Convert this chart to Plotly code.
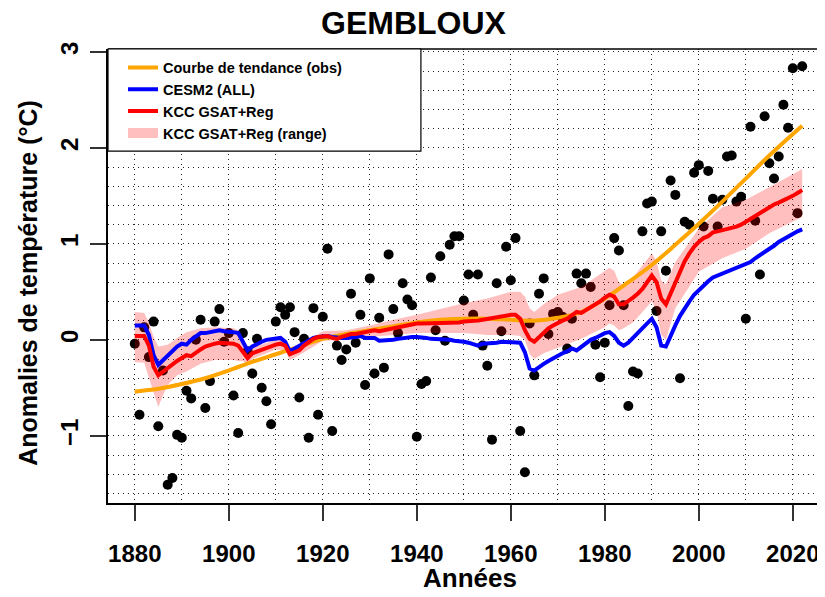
import plotly.graph_objects as go

years = list(range(1880, 2023))
obs = [-0.04, -0.78, 0.13, -0.18, 0.19, -0.90, -0.32, -1.51, -1.44, -0.99,
       -1.02, -0.53, -0.61, 0.00, 0.21, -0.71, -0.43, 0.19, 0.32, -0.02,
       0.07, -0.58, -0.97, 0.07, -0.12, -0.35, 0.01, -0.50, -0.64, -0.88,
       0.19, 0.34, 0.26, 0.34, 0.08, -0.60, 0.01, -1.02, 0.33, -0.78,
       0.24, 0.95, -0.95, -0.06, -0.21, -0.10, 0.48, -0.03, 0.26, -0.47,
       0.64, -0.35, 0.23, -0.29, 0.89, 0.32, 0.07, 0.59, 0.42, 0.36,
       -1.01, -0.46, -0.43, 0.65, 0.10, 0.87, -0.01, 0.99, 1.08, 1.08,
       0.41, 0.68, 0.26, 0.68, -0.06, -0.27, -1.04, 0.59, 0.09, 0.97,
       0.62, 1.06, -0.95, -1.38, 0.17, -0.37, 0.48, 0.64, 0.06, 0.27,
       0.29, 0.24, -0.09, 0.22, 0.69, 0.59, 0.69, 0.55, -0.05, -0.39,
       -0.03, 0.36, 1.06, 0.93, 0.36, -0.69, -0.33, -0.35, 1.13, 1.42,
       1.44, 0.30, 1.13, 0.72, 1.66, 1.51, -0.40, 1.23, 1.20, 1.74,
       1.82, 1.18, 1.76, 1.47, 1.18, 1.46, 1.91, 1.92, 1.44, 1.49,
       0.22, 2.22, 1.24, 0.68, 2.33, 1.84, 1.68, 1.91, 2.45, 2.21,
       2.83, 1.32, 2.85]

cesm2 = [0.15, 0.15, 0.15, 0.05, -0.16, -0.26, -0.21, -0.16, -0.12, -0.07,
         -0.04, -0.05, 0.00, 0.03, 0.07, 0.07, 0.08, 0.09, 0.10, 0.09,
         0.09, 0.08, 0.07, -0.02, -0.11, -0.07, -0.04, -0.02, 0.00, 0.01,
         0.02, 0.02, -0.02, -0.12, -0.09, -0.06, -0.03, 0.00, 0.02, 0.03,
         0.04, 0.04, 0.03, 0.02, 0.02, 0.02, 0.02, 0.03, 0.04, 0.02,
         0.02, 0.02, -0.01, -0.01, 0.00, 0.00, 0.01, 0.02, 0.02, 0.03,
         0.03, 0.03, 0.02, 0.01, 0.01, 0.00, 0.00, 0.00, -0.01, -0.01,
         -0.02, -0.03, -0.05, -0.06, -0.04, -0.04, -0.03, -0.03, -0.02, -0.02,
         -0.02, -0.02, -0.03, -0.13, -0.30, -0.32, -0.28, -0.25, -0.22, -0.19,
         -0.16, -0.14, -0.12, -0.09, -0.11, -0.07, -0.04, 0.00, 0.02, 0.05,
         0.07, 0.08, 0.04, -0.03, -0.06, -0.03, 0.02, 0.08, 0.12, 0.17,
         0.22, 0.13, -0.06, -0.07, 0.05, 0.15, 0.25, 0.33, 0.40, 0.47,
         0.52, 0.56, 0.61, 0.65, 0.67, 0.69, 0.71, 0.73, 0.75, 0.76,
         0.78, 0.81, 0.85, 0.88, 0.92, 0.95, 0.98, 1.02, 1.05, 1.08,
         1.11, 1.13, 1.15]

kcc = [0.04, 0.04, 0.04, -0.06, -0.28, -0.37, -0.33, -0.29, -0.26, -0.22,
       -0.19, -0.16, -0.17, -0.13, -0.10, -0.07, -0.05, -0.04, -0.03, -0.03,
       -0.03, -0.04, -0.06, -0.13, -0.19, -0.14, -0.12, -0.10, -0.09, -0.07,
       -0.05, -0.04, -0.06, -0.15, -0.13, -0.11, -0.06, -0.02, 0.01, 0.03,
       0.04, 0.04, 0.02, 0.01, 0.03, 0.05, 0.06, 0.06, 0.07, 0.08,
       0.09, 0.10, 0.09, 0.10, 0.12, 0.13, 0.14, 0.15, 0.15, 0.16,
       0.17, 0.17, 0.17, 0.17, 0.17, 0.17, 0.17, 0.17, 0.18, 0.18,
       0.19, 0.19, 0.20, 0.20, 0.21, 0.22, 0.22, 0.23, 0.25, 0.26,
       0.26, 0.26, 0.22, 0.10, 0.01, -0.02, 0.03, 0.08, 0.12, 0.15,
       0.18, 0.20, 0.22, 0.25, 0.29, 0.28, 0.31, 0.33, 0.37, 0.40,
       0.44, 0.47, 0.45, 0.37, 0.37, 0.40, 0.44, 0.48, 0.53, 0.60,
       0.67, 0.60, 0.43, 0.37, 0.48, 0.60, 0.72, 0.82, 0.90, 0.97,
       1.02, 1.06, 1.08, 1.12, 1.13, 1.14, 1.15, 1.16, 1.18, 1.20,
       1.23, 1.26, 1.30, 1.33, 1.36, 1.39, 1.41, 1.43, 1.45, 1.47,
       1.50, 1.53, 1.56]

band_years = [1880, 1882, 1883, 1884, 1885, 1886, 1887, 1889, 1891, 1894,
              1897, 1901, 1902, 1903, 1904, 1905, 1910, 1912, 1913, 1915,
              1920, 1925, 1930, 1935, 1940, 1945, 1950, 1955, 1960, 1962,
              1963, 1964, 1965, 1967, 1970, 1975, 1980, 1981, 1982, 1983,
              1984, 1986, 1990, 1991, 1992, 1993, 1995, 2000, 2005, 2010,
              2015, 2022]
band_lo = [-0.23, -0.24, -0.40, -0.55, -0.70, -0.58, -0.47, -0.37, -0.33, -0.25,
           -0.21, -0.21, -0.22, -0.22, -0.26, -0.20, -0.10, -0.11, -0.21, -0.16,
           -0.01, 0.00, 0.03, 0.05, 0.07, 0.07, 0.07, 0.05, 0.05, 0.04,
           0.00, -0.15, -0.20, -0.14, -0.08, 0.01, 0.13, 0.17, 0.15, 0.10,
           0.12, 0.18, 0.40, 0.30, 0.05, 0.00, 0.33, 0.71, 0.85, 0.95,
           1.11, 1.28]
band_hi = [0.29, 0.28, 0.18, 0.03, -0.07, -0.06, -0.05, 0.02, 0.08, 0.12,
           0.13, 0.12, 0.10, 0.00, -0.12, -0.08, 0.00, -0.01, -0.10, -0.06,
           0.09, 0.10, 0.15, 0.21, 0.26, 0.32, 0.38, 0.43, 0.50, 0.50,
           0.45, 0.33, 0.29, 0.37, 0.47, 0.55, 0.71, 0.75, 0.72, 0.60,
           0.57, 0.65, 0.90, 0.82, 0.62, 0.58, 0.81, 1.16, 1.38, 1.46,
           1.59, 1.78]

trend_years = [1880, 1885, 1890, 1895, 1900, 1905, 1910, 1915, 1920, 1925,
               1930, 1935, 1940, 1945, 1950, 1955, 1960, 1965, 1970, 1975,
               1980, 1985, 1990, 1995, 2000, 2005, 2010, 2015, 2022]
trend = [-0.54, -0.51, -0.46, -0.40, -0.32, -0.23, -0.15, -0.07, 0.01, 0.06,
         0.10, 0.14, 0.18, 0.21, 0.22, 0.22, 0.21, 0.20, 0.23, 0.29,
         0.43, 0.60, 0.78, 0.99, 1.21, 1.44, 1.68, 1.92, 2.23]

x_ticks = [1880, 1900, 1920, 1940, 1960, 1980, 2000, 2020]
y_ticks = [-1, 0, 1, 2, 3]

FONT = "Liberation Sans, Arial, sans-serif"
PINK = "rgba(255,0,0,0.25)"
GRIDC = "#222222"
GRIDDASH = "1px,4px"

fig = go.Figure()

fig.add_trace(go.Scatter(x=years, y=obs, mode="markers",
                         marker=dict(color="black", size=10, line=dict(width=0)),
                         showlegend=False, hoverinfo="skip"))
fig.add_trace(go.Scatter(x=band_years + band_years[::-1], y=band_hi + band_lo[::-1],
                         fill="toself", fillcolor=PINK, line=dict(width=0),
                         mode="lines", showlegend=False, hoverinfo="skip"))
fig.add_trace(go.Scatter(x=trend_years, y=trend, mode="lines",
                         line=dict(color="#FFA500", width=4, shape="spline"),
                         name="Courbe de tendance (obs)"))
fig.add_trace(go.Scatter(x=years, y=cesm2, mode="lines",
                         line=dict(color="#0000FF", width=4),
                         name="CESM2 (ALL)"))
fig.add_trace(go.Scatter(x=years, y=kcc, mode="lines",
                         line=dict(color="#FF0000", width=4),
                         name="KCC GSAT+Reg"))
fig.add_trace(go.Scatter(x=[None], y=[None], mode="lines",
                         line=dict(color="#FFBFBF", width=14),
                         name="KCC GSAT+Reg (range)"))

fig.update_xaxes(range=[1874.3, 2027.7], tickmode="array", tickvals=x_ticks,
                 ticktext=[str(v) for v in x_ticks],
                 ticks="outside", ticklen=16, tickwidth=1.5, tickcolor="#333",
                 ticklabelstandoff=12,
                 tickfont=dict(family=FONT, size=24, color="black", weight="bold"),
                 showline=True, linecolor="black", linewidth=1.5,
                 zeroline=False, automargin=False,
                 showgrid=True, gridcolor=GRIDC, gridwidth=1, griddash=GRIDDASH,
                 minor=dict(dtick=10, tick0=1880, showgrid=True, gridcolor=GRIDC,
                            gridwidth=1, griddash=GRIDDASH, ticks=""))
fig.update_yaxes(range=[-1.70, 3.03], tickmode="array", tickvals=y_ticks,
                 ticks="outside", ticklen=16, tickwidth=1.5, tickcolor="#333",
                 tickangle=-90, ticklabelstandoff=3,
                 tickfont=dict(family=FONT, size=24, color="black", weight="bold"),
                 showline=True, linecolor="black", linewidth=1.5,
                 zeroline=False, automargin=False,
                 showgrid=True, gridcolor=GRIDC, gridwidth=1, griddash=GRIDDASH,
                 minor=dict(dtick=0.2, tick0=0, showgrid=True, gridcolor=GRIDC,
                            gridwidth=1, griddash=GRIDDASH, ticks=""))

fig.add_shape(type="line", xref="paper", yref="paper", x0=0, x1=1, y0=1, y1=1,
              line=dict(color="black", width=1.5))
fig.add_shape(type="rect", xref="paper", yref="paper", x0=0, x1=0.434, y0=1, y1=0.775,
              fillcolor="white", line=dict(color="black", width=1.2), layer="above")

fig.add_annotation(text="GEMBLOUX", xref="paper", yref="paper", x=0.424, y=1.0,
                   yshift=26, xanchor="center", yanchor="middle", showarrow=False,
                   font=dict(family=FONT, size=32, color="black", weight="bold"))
fig.add_annotation(text="Années", xref="paper", yref="paper", x=0.502, y=-0.165,
                   xanchor="center", yanchor="middle", showarrow=False,
                   font=dict(family=FONT, size=26, color="black", weight="bold"))
fig.add_annotation(text="Anomalies de température (°C)", xref="paper", yref="paper",
                   x=-0.111, y=0.485, xanchor="center", yanchor="middle", textangle=-90,
                   showarrow=False,
                   font=dict(family=FONT, size=25, color="black", weight="bold"))

fig.update_layout(
    width=825, height=597,
    margin=dict(l=100, r=4, t=41, b=102),
    paper_bgcolor="white", plot_bgcolor="white",
    legend=dict(x=0.0208, y=0.9946, xanchor="left", yanchor="top",
                bgcolor="rgba(0,0,0,0)", borderwidth=0, tracegroupgap=0,
                font=dict(family=FONT, size=14.5, color="black", weight="bold")),
    showlegend=True,
)

fig.write_html("out.html")
